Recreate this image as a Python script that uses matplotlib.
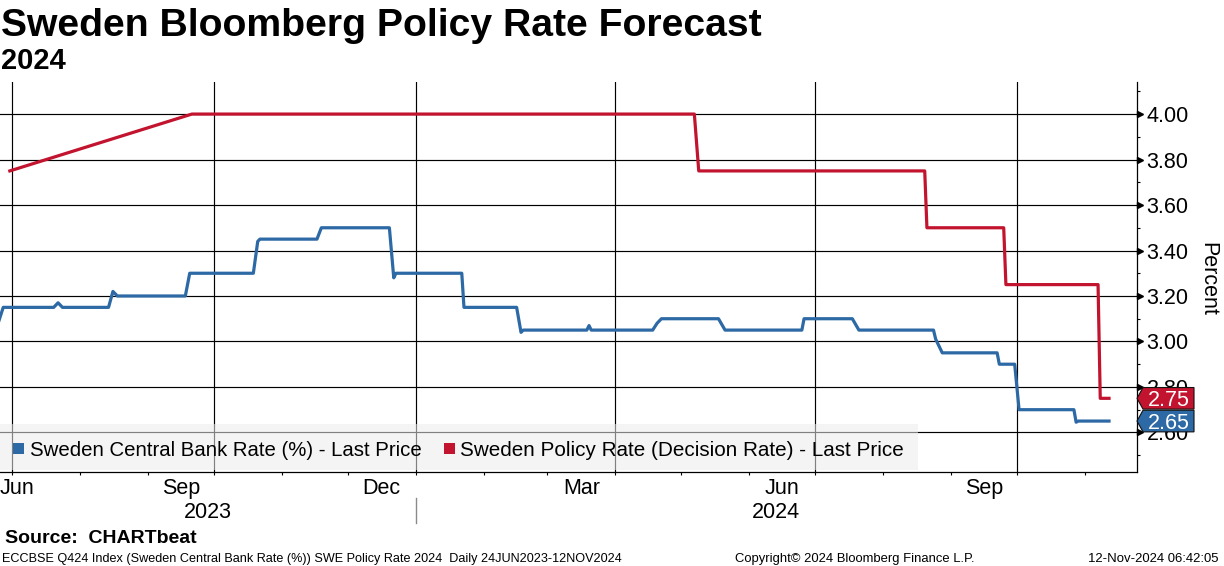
import matplotlib
matplotlib.use("Agg")
import matplotlib.pyplot as plt
import matplotlib.dates as mdates
import matplotlib.transforms as mtransforms
from matplotlib.patches import Rectangle, Polygon
from matplotlib.ticker import MultipleLocator, FixedLocator, FuncFormatter
import pandas as pd
import numpy as np

# ---------------- data ----------------
title = "Sweden Bloomberg Policy Rate Forecast"
subtitle = "2024"
source_text = "Source:  CHARTbeat"
footer_left = "ECCBSE Q424 Index (Sweden Central Bank Rate (%)) SWE Policy Rate 2024  Daily 24JUN2023-12NOV2024"
footer_mid = "Copyright\u00a9 2024 Bloomberg Finance L.P."
footer_right = "12-Nov-2024 06:42:05"
y_label = "Percent"

cb_name = "Sweden Central Bank Rate (%) - Last Price"
cb_dates = ["2023-06-25", "2023-06-27", "2023-07-20", "2023-07-22", "2023-07-24",
            "2023-08-14", "2023-08-16", "2023-08-18", "2023-09-18", "2023-09-20",
            "2023-10-19", "2023-10-21", "2023-10-22", "2023-11-17", "2023-11-19",
            "2023-12-20", "2023-12-22", "2023-12-23", "2024-01-22", "2024-01-23",
            "2024-02-16", "2024-02-18", "2024-02-19", "2024-03-19", "2024-03-20",
            "2024-03-21", "2024-04-18", "2024-04-20", "2024-04-22", "2024-05-18",
            "2024-05-21", "2024-06-25", "2024-06-26", "2024-07-18", "2024-07-21",
            "2024-08-24", "2024-08-25", "2024-08-28", "2024-09-22", "2024-09-23",
            "2024-09-30", "2024-10-02", "2024-10-27", "2024-10-28", "2024-10-29",
            "2024-11-12"]
cb_values = [3.09, 3.15, 3.15, 3.17, 3.15,
             3.15, 3.22, 3.20, 3.20, 3.30,
             3.30, 3.44, 3.45, 3.45, 3.50,
             3.50, 3.28, 3.30, 3.30, 3.15,
             3.15, 3.04, 3.05, 3.05, 3.07,
             3.05, 3.05, 3.08, 3.10, 3.10,
             3.05, 3.05, 3.10, 3.10, 3.05,
             3.05, 3.01, 2.95, 2.95, 2.90,
             2.90, 2.70, 2.70, 2.645, 2.65,
             2.65]

pr_name = "Sweden Policy Rate (Decision Rate) - Last Price"
pr_dates = ["2023-06-30", "2023-09-21", "2024-05-07", "2024-05-09", "2024-08-20",
            "2024-08-21", "2024-09-25", "2024-09-26", "2024-11-07", "2024-11-08",
            "2024-11-12"]
pr_values = [3.75, 4.00, 4.00, 3.75, 3.75,
             3.50, 3.50, 3.25, 3.25, 2.75,
             2.75]

month_labels = ["Jun", "Sep", "Dec", "Mar", "Jun", "Sep"]
month_label_starts = ["2023-06-01", "2023-09-01", "2023-12-01",
                      "2024-03-01", "2024-06-01", "2024-09-01"]
year_labels = ["2023", "2024"]
y_ticks = [2.60, 2.80, 3.00, 3.20, 3.40, 3.60, 3.80, 4.00]
x_start = "2023-06-25 12:45"
x_end = "2024-11-24 18:00"

# ---------------- style ----------------
BLUE = "#2c69a5"
RED = "#c2142f"
FONT = "Liberation Sans"
W, H, DPI = 1224, 566, 100
plt.rcParams["font.family"] = [FONT, "DejaVu Sans"]

fig = plt.figure(figsize=(W / DPI, H / DPI), dpi=DPI)
fig.patch.set_facecolor("white")


def fx(px):
    return px / W


def fy(py):
    return 1 - py / H


ax_left, ax_right, ax_top, ax_bot = 0, 1137, 82, 472
ax = fig.add_axes([fx(ax_left), fy(ax_bot), fx(ax_right - ax_left), (ax_bot - ax_top) / H])
ax.set_facecolor("white")

cbd = pd.to_datetime(cb_dates)
prd = pd.to_datetime(pr_dates)
ax.plot(cbd, cb_values, color=BLUE, lw=2.3, solid_joinstyle="round", zorder=3)
ax.plot(prd, pr_values, color=RED, lw=2.3, solid_joinstyle="round", zorder=3)

ax.set_xlim(pd.Timestamp(x_start), pd.Timestamp(x_end))
ax.set_ylim(2.426, 4.141)

# x ticks
ax.xaxis.set_major_locator(mdates.MonthLocator(bymonth=[1, 4, 7, 10]))
ax.xaxis.set_minor_locator(mdates.MonthLocator())
ax.tick_params(axis="x", which="both", direction="out", length=2.5, width=0.8,
               color="black", labelbottom=False)

# y ticks on right
ax.yaxis.tick_right()
ax.yaxis.set_major_locator(FixedLocator(y_ticks))
ax.yaxis.set_minor_locator(MultipleLocator(0.1))
ax.yaxis.set_major_formatter(FuncFormatter(lambda v, p: f"{v:.2f}"))
ax.tick_params(axis="y", which="major", length=0, pad=6.8, labelsize=15.5,
               labelright=True, labelleft=False)
ax.tick_params(axis="y", which="minor", direction="out", length=2.5, width=0.8,
               right=True, left=False)

ax.grid(True, which="major", axis="both", color="black", lw=0.85)
ax.set_axisbelow(True)
for s in ["left", "top"]:
    ax.spines[s].set_visible(False)
for s in ["right", "bottom"]:
    ax.spines[s].set_color("black")
    ax.spines[s].set_linewidth(0.9)

# triangle markers for major y ticks
ax.plot(np.full(len(y_ticks), 1.0 + 3 / 1137), y_ticks, ls="none", marker=">",
        ms=4.5, color="black", transform=ax.get_yaxis_transform(), clip_on=False, zorder=5)

# y label
fig.text(fx(1208), fy(279), y_label, rotation=270, ha="center", va="center", fontsize=15.5)

# month labels
xb = mtransforms.blended_transform_factory(ax.transData, fig.transFigure)
xl0, xl1 = ax.get_xlim()
for lab, st in zip(month_labels, month_label_starts):
    s = pd.Timestamp(st)
    e = s + pd.offsets.MonthBegin(1)
    a = max(mdates.date2num(s), xl0)
    b = min(mdates.date2num(e), xl1)
    mid = (a + b) / 2
    if mid - xl0 < 12:
        ax.text(xl0, fy(494), lab, transform=xb, ha="left", va="baseline", fontsize=15.5)
    else:
        ax.text(mid, fy(494), lab, transform=xb, ha="center", va="baseline", fontsize=15.5)

# year labels
jan24 = mdates.date2num(pd.Timestamp("2024-01-01"))
year_spans = [(xl0, jan24), (jan24, xl1)]
for lab, (a, b) in zip(year_labels, year_spans):
    ax.text((a + b) / 2, fy(518), lab, transform=xb, ha="center", va="baseline", fontsize=15.5)
ax.plot([jan24, jan24], [fy(498), fy(523)], transform=xb, color="#8a8a8a", lw=1, clip_on=False)

# legend box
leg = Rectangle((fx(0), fy(470)), fx(918), 46 / H, transform=fig.transFigure,
                facecolor="#ebebeb", edgecolor="none", alpha=0.55, zorder=2)
fig.patches.append(leg)
fig.patches.append(Rectangle((fx(13), fy(454)), fx(11), 11 / H, transform=fig.transFigure,
                             facecolor=BLUE, edgecolor="none", zorder=3))
fig.patches.append(Rectangle((fx(444), fy(454)), fx(11), 11 / H, transform=fig.transFigure,
                             facecolor=RED, edgecolor="none", zorder=3))
t_cb = fig.text(fx(30), fy(456), cb_name, ha="left", va="baseline", fontsize=15, zorder=4)
t_pr = fig.text(fx(460), fy(456), pr_name, ha="left", va="baseline", fontsize=15, zorder=4)

# value tags
ppu = (ax_bot - ax_top) / (4.141 - 2.426)  # pixels per unit
yt = ax.get_yaxis_transform()
for val, col in [(cb_values[-1], BLUE), (pr_values[-1], RED)]:
    hh = 10.8 / ppu
    x0 = 1.0
    x1 = 1.0 + 6 / 1137
    x2 = 1.0 + 57 / 1137
    poly = Polygon([(x0, val), (x1, val + hh), (x2, val + hh), (x2, val - hh), (x1, val - hh)],
                   closed=True, transform=yt, facecolor=col, edgecolor="#111111", lw=0.8,
                   clip_on=False, zorder=6)
    ax.add_patch(poly)
    ax.text(1.0 + 31.5 / 1137, val, f"{val:.2f}", transform=yt, ha="center", va="center_baseline",
            color="white", fontsize=15.5, zorder=7, clip_on=False)

# titles
t_title = fig.text(fx(1), fy(36), title, ha="left", va="baseline", fontsize=24, fontweight="bold")
t_sub = fig.text(fx(1), fy(69), subtitle, ha="left", va="baseline", fontsize=21, fontweight="bold")

# footer
t_src = fig.text(fx(5), fy(543), source_text, ha="left", va="baseline", fontsize=12, fontweight="bold")
t_fl = fig.text(fx(2), fy(562), footer_left, ha="left", va="baseline", fontsize=8.5)
t_fm = fig.text(fx(735), fy(562), footer_mid, ha="left", va="baseline", fontsize=8.5)
t_fr = fig.text(fx(1218), fy(562), footer_right, ha="right", va="baseline", fontsize=8.5)

# fit text widths to reference
renderer = fig.canvas.get_renderer()
for t, target in [(t_title, 762), (t_cb, 392), (t_pr, 445), (t_src, 191),
                  (t_fl, 618), (t_fm, 239), (t_fr, 131)]:
    w = t.get_window_extent(renderer).width
    t.set_fontsize(t.get_fontsize() * target / w)

fig.savefig("out.png", dpi=DPI, facecolor="white")
